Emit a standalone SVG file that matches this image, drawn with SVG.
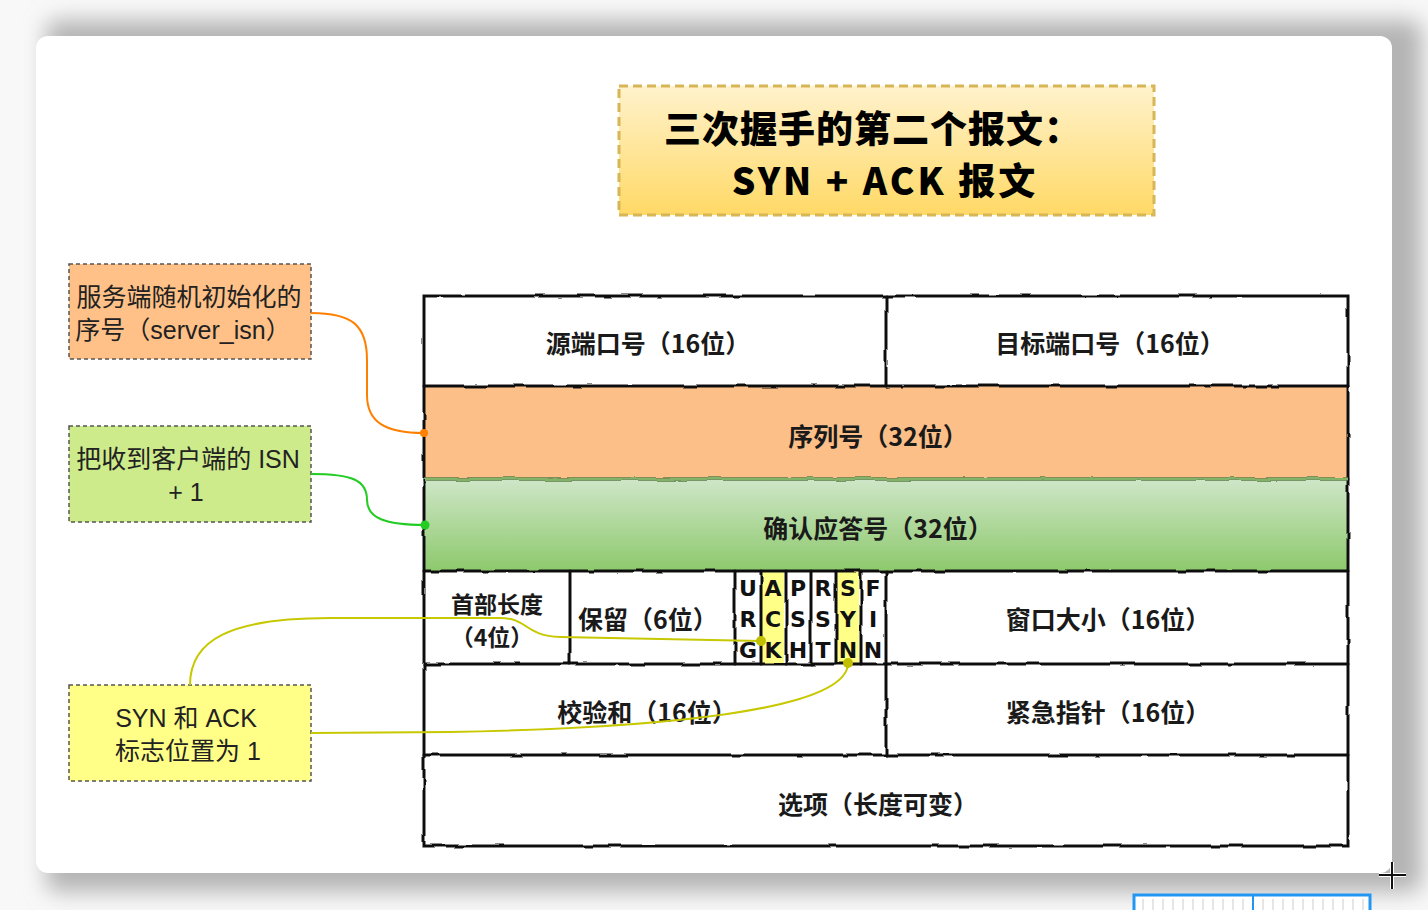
<svg xmlns="http://www.w3.org/2000/svg" width="1428" height="910" viewBox="0 0 1428 910">
<defs>
<linearGradient id="gTitle" x1="0" y1="0" x2="0" y2="1"><stop offset="0" stop-color="#fff2cc"/><stop offset="1" stop-color="#ffd966"/></linearGradient>
<linearGradient id="gGreen" x1="0" y1="0" x2="0" y2="1"><stop offset="0" stop-color="#cfe6c8"/><stop offset="1" stop-color="#8dc96c"/></linearGradient>
<filter id="shadow" x="-10%" y="-10%" width="120%" height="120%"><feGaussianBlur stdDeviation="11"/></filter>
<filter id="rough" x="-2%" y="-2%" width="104%" height="104%"><feTurbulence type="fractalNoise" baseFrequency="0.04" numOctaves="2" seed="3"/><feDisplacementMap in="SourceGraphic" scale="3"/></filter>
</defs>
<style>
.cell{font-family:"Noto Sans CJK SC","Noto Sans",sans-serif;font-weight:700;font-size:25px;fill:#1a1a1a;text-anchor:middle;dominant-baseline:central}
.flag{font-family:"DejaVu Sans","Liberation Sans",sans-serif;font-weight:700;font-size:22px;fill:#111;text-anchor:middle;dominant-baseline:central}
.note{font-family:"Liberation Sans","Noto Sans CJK SC",sans-serif;font-size:25px;fill:#222;text-anchor:middle;dominant-baseline:central}
.title{font-family:"Noto Sans CJK SC","Noto Sans",sans-serif;font-weight:900;font-size:37px;fill:#000;text-anchor:middle;dominant-baseline:central}
.grid{stroke:#111;stroke-width:3;fill:none;stroke-linecap:round}
.nbox{stroke:#555;stroke-width:1.5;stroke-dasharray:4 3}
.conn{fill:none;stroke-width:2}
</style>
<rect width="1428" height="910" fill="#f8f8f8"/>
<rect x="46" y="20" width="1376" height="872" rx="12" fill="#b4b4b4" filter="url(#shadow)"/>
<rect x="36" y="36" width="1356" height="837" rx="12" fill="#ffffff"/>

<g id="title">
<rect x="619" y="86" width="535" height="129" fill="url(#gTitle)" stroke="#d6b656" stroke-width="3" stroke-dasharray="9 5"/>
<text class="title" x="873" y="127" letter-spacing="1">三次握手的第二个报文：</text>
<text class="title" x="885" y="179" letter-spacing="3">SYN + ACK 报文</text>
</g>

<g id="table">
<rect x="424" y="386" width="924" height="93" fill="#fdbf88"/>
<rect x="424" y="479" width="924" height="92" fill="url(#gGreen)"/>
<rect x="762" y="571" width="22" height="93" fill="#ffff88"/>
<rect x="837" y="571" width="22" height="93" fill="#ffff88"/>
<g filter="url(#rough)">
<rect class="grid" x="424" y="296" width="924" height="550"/>
<path class="grid" d="M424 386H1348M424 479H1348M424 571H1348M424 664H1348M424 755H1348"/>
<path class="grid" d="M886 296V386M886 664V755M570 571V664M735 571V664M761 571V664M786 571V664M811 571V664M836 571V664M861 571V664M886 571V664"/>
<path d="M424 479H1348" stroke="#82b366" stroke-width="3"/>
</g>
</g>

<g id="src-port"><text class="cell" x="648" y="342">源端口号（16位）</text></g>
<g id="dst-port"><text class="cell" x="1110" y="342">目标端口号（16位）</text></g>
<g id="seq"><text class="cell" x="878" y="435">序列号（32位）</text></g>
<g id="ack-num"><text class="cell" x="878" y="527">确认应答号（32位）</text></g>
<g id="hdr-len"><text class="cell" x="497" y="603" style="font-size:23px">首部长度</text><text class="cell" x="492" y="636" style="font-size:23px">（4位）</text></g>
<g id="reserved"><text class="cell" x="648" y="618">保留（6位）</text></g>
<g id="flags">
<text class="flag" x="748" y="588">U</text><text class="flag" x="748" y="619">R</text><text class="flag" x="748" y="650">G</text>
<text class="flag" x="773" y="588">A</text><text class="flag" x="773" y="619">C</text><text class="flag" x="773" y="650">K</text>
<text class="flag" x="798" y="588">P</text><text class="flag" x="798" y="619">S</text><text class="flag" x="798" y="650">H</text>
<text class="flag" x="823" y="588">R</text><text class="flag" x="823" y="619">S</text><text class="flag" x="823" y="650">T</text>
<text class="flag" x="848" y="588">S</text><text class="flag" x="848" y="619">Y</text><text class="flag" x="848" y="650">N</text>
<text class="flag" x="873" y="588">F</text><text class="flag" x="873" y="619">I</text><text class="flag" x="873" y="650">N</text>
</g>
<g id="window"><text class="cell" x="1108" y="618">窗口大小（16位）</text></g>
<g id="checksum"><text class="cell" x="647" y="711">校验和（16位）</text></g>
<g id="urgent"><text class="cell" x="1108" y="711">紧急指针（16位）</text></g>
<g id="options"><text class="cell" x="878" y="803">选项（长度可变）</text></g>

<g id="note-seq">
<rect class="nbox" x="69" y="264" width="242" height="95" fill="#ffc187"/>
<text class="note" x="189" y="297">服务端随机初始化的</text>
<text class="note" x="183" y="330">序号（server_isn）</text>
</g>
<g id="note-ack">
<rect class="nbox" x="69" y="426" width="242" height="96" fill="#cdeb8b"/>
<text class="note" x="188" y="459">把收到客户端的 ISN</text>
<text class="note" x="186" y="492">+ 1</text>
</g>
<g id="note-flags">
<rect class="nbox" x="69" y="685" width="242" height="96" fill="#ffff88"/>
<text class="note" x="186" y="718">SYN 和 ACK</text>
<text class="note" x="188" y="751">标志位置为 1</text>
</g>

<g id="connectors">
<path class="conn" stroke="#ff8000" d="M311 313C352 313 367 325 367 360L367 395C367 422 385 433 424 433"/>
<circle cx="424" cy="433" r="4" fill="#ff8000"/>
<path class="conn" stroke="#22cc22" d="M311 474C352 474 367 480 367 500C367 518 385 525 425 525"/>
<circle cx="425" cy="525" r="4.5" fill="#22cc22"/>
<path class="conn" stroke="#c8c800" d="M190 685C190 640 230 618 330 618L500 618C528 618 525 636 560 637L761 641"/>
<circle cx="761" cy="641" r="5" fill="#c0c000"/>
<path class="conn" stroke="#c8c800" d="M311 733L450 732C650 728 848 712 848 663"/>
<circle cx="848" cy="663" r="5" fill="#c0c000"/>
</g>

<g id="overlay">
<rect x="1134" y="895" width="236" height="18" fill="#ffffff" stroke="#2196f3" stroke-width="3"/>
<path d="M1143 899V910M1153 899V910M1163 899V910M1173 899V910M1183 899V910M1193 899V910M1203 899V910M1213 899V910M1223 899V910M1233 899V910M1243 899V910M1263 899V910M1273 899V910M1283 899V910M1293 899V910M1303 899V910M1313 899V910M1323 899V910M1333 899V910M1343 899V910M1353 899V910M1363 899V910" stroke="#cccccc" stroke-width="1"/>
<path d="M1253 895V910" stroke="#2196f3" stroke-width="2"/>
<path d="M1379 875H1406M1392 862V889" stroke="#ffffff" stroke-width="4"/>
<path d="M1379 875H1406M1392 862V889" stroke="#111" stroke-width="2"/>
</g>
</svg>
